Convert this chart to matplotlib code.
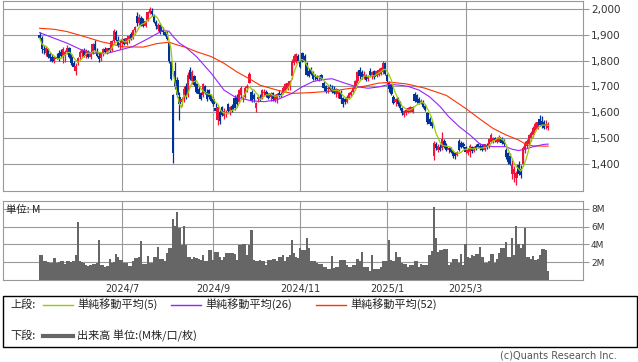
import matplotlib
matplotlib.use("Agg")
import matplotlib.pyplot as plt
from matplotlib.lines import Line2D
from matplotlib.patches import Rectangle
import numpy as np
import pandas as pd

# daily candles, 2024/5 - 2025/4 (index = trading day)
opens = [
    1900, 1890, 1845, 1830, 1845, 1825, 1815, 1805, 1815, 1830,
    1835, 1815, 1820, 1835, 1850, 1815, 1790, 1760, 1790, 1815,
    1830, 1840, 1820, 1835, 1815, 1830, 1865, 1838, 1820, 1810,
    1830, 1845, 1835, 1848, 1840, 1875, 1910, 1880, 1860, 1870,
    1885, 1865, 1885, 1905, 1890, 1920, 1975, 1945, 1965, 1955,
    1935, 1960, 1985, 1995, 1975, 1950, 1925, 1940, 1920, 1910,
    1905, 1870, 1795, 1665, 1760, 1725, 1660, 1640, 1650, 1700,
    1665, 1765, 1720, 1740, 1710, 1690, 1675, 1665, 1700, 1680,
    1685, 1665, 1650, 1615, 1570, 1600, 1620, 1585, 1595, 1630,
    1605, 1625, 1655, 1660, 1640, 1665, 1650, 1660, 1695, 1715,
    1680, 1665, 1615, 1650, 1660, 1655, 1675, 1680, 1665, 1660,
    1675, 1645, 1650, 1675, 1670, 1675, 1685, 1690, 1700, 1740,
    1790, 1795, 1820, 1795, 1830, 1820, 1790, 1760, 1765, 1755,
    1745, 1740, 1735, 1745, 1715, 1700, 1690, 1700, 1695, 1690,
    1670, 1675, 1680, 1655, 1650, 1640, 1655, 1665, 1680, 1690,
    1720, 1765, 1755, 1735, 1745, 1730, 1760, 1740, 1760, 1740,
    1745, 1750, 1755, 1790, 1745, 1715, 1705, 1660, 1640, 1655,
    1640, 1615, 1590, 1595, 1600, 1605, 1600, 1670, 1665, 1650,
    1640, 1640, 1625, 1595, 1575, 1560, 1430, 1478, 1455, 1465,
    1460, 1490, 1470, 1455, 1460, 1450, 1440, 1435, 1490, 1480,
    1475, 1465, 1440, 1445, 1465, 1450, 1470, 1475, 1470, 1465,
    1455, 1470, 1465, 1485, 1490, 1500, 1485, 1490, 1500, 1490,
    1455, 1440, 1430, 1360, 1360, 1345, 1395, 1380, 1400, 1455,
    1470, 1475, 1500, 1510, 1535, 1540, 1575, 1565, 1560, 1545,
    1540,
]
highs = [
    1912, 1895, 1860, 1858, 1850, 1835, 1825, 1820, 1830, 1840,
    1845, 1852, 1840, 1860, 1855, 1825, 1800, 1790, 1815, 1840,
    1845, 1850, 1845, 1842, 1835, 1870, 1880, 1850, 1830, 1835,
    1850, 1855, 1850, 1860, 1880, 1925, 1920, 1895, 1880, 1890,
    1890, 1895, 1900, 1910, 1925, 1935, 1990, 1980, 1975, 1965,
    1960, 1995, 2010, 2005, 1980, 1960, 1945, 1945, 1930, 1920,
    1915, 1875, 1800, 1670, 1795, 1735, 1680, 1660, 1700, 1715,
    1755, 1775, 1762, 1745, 1715, 1700, 1680, 1715, 1705, 1690,
    1690, 1670, 1660, 1635, 1625, 1610, 1625, 1615, 1610, 1635,
    1625, 1630, 1665, 1670, 1690, 1700, 1665, 1700, 1710, 1755,
    1685, 1675, 1640, 1665, 1672, 1690, 1690, 1685, 1675, 1680,
    1680, 1670, 1675, 1685, 1680, 1700, 1715, 1720, 1725, 1805,
    1825, 1830, 1825, 1800, 1835, 1825, 1795, 1770, 1775, 1760,
    1750, 1745, 1745, 1750, 1720, 1705, 1700, 1710, 1705, 1700,
    1695, 1690, 1685, 1660, 1655, 1665, 1680, 1685, 1700, 1725,
    1760, 1775, 1765, 1760, 1750, 1745, 1770, 1760, 1765, 1765,
    1770, 1775, 1797, 1795, 1750, 1720, 1710, 1665, 1655, 1660,
    1645, 1620, 1610, 1615, 1620, 1625, 1625, 1678, 1672, 1660,
    1650, 1648, 1630, 1600, 1580, 1565, 1490, 1485, 1475, 1475,
    1522, 1495, 1480, 1465, 1465, 1455, 1445, 1450, 1495, 1490,
    1485, 1470, 1460, 1475, 1470, 1470, 1478, 1482, 1480, 1475,
    1478, 1480, 1500, 1518, 1505, 1505, 1505, 1512, 1505, 1495,
    1460, 1445, 1440, 1415, 1390, 1370, 1410, 1395, 1470, 1490,
    1495, 1515, 1525, 1545, 1560, 1565, 1590, 1585, 1570, 1570,
    1560,
]
lows = [
    1880, 1830, 1825, 1820, 1810, 1800, 1795, 1790, 1805, 1800,
    1810, 1790, 1795, 1825, 1810, 1785, 1770, 1745, 1785, 1805,
    1815, 1815, 1812, 1810, 1805, 1825, 1835, 1815, 1795, 1800,
    1820, 1830, 1825, 1835, 1838, 1870, 1875, 1855, 1845, 1855,
    1862, 1860, 1870, 1880, 1885, 1905, 1935, 1940, 1935, 1930,
    1930, 1955, 1980, 1975, 1945, 1925, 1915, 1905, 1905, 1895,
    1880, 1790, 1725, 1402, 1690, 1660, 1570, 1625, 1640, 1650,
    1660, 1725, 1710, 1700, 1675, 1660, 1648, 1660, 1670, 1645,
    1650, 1640, 1625, 1600, 1552, 1555, 1585, 1575, 1580, 1600,
    1590, 1600, 1610, 1620, 1635, 1650, 1640, 1655, 1680, 1712,
    1640, 1640, 1600, 1640, 1645, 1650, 1662, 1660, 1650, 1645,
    1645, 1640, 1635, 1660, 1660, 1670, 1680, 1685, 1688, 1730,
    1785, 1790, 1795, 1770, 1795, 1790, 1740, 1735, 1745, 1725,
    1725, 1725, 1720, 1725, 1690, 1675, 1675, 1685, 1675, 1670,
    1660, 1655, 1640, 1620, 1630, 1635, 1650, 1660, 1670, 1685,
    1715, 1730, 1730, 1730, 1720, 1720, 1735, 1730, 1730, 1735,
    1740, 1745, 1750, 1745, 1715, 1680, 1665, 1630, 1625, 1625,
    1610, 1590, 1583, 1590, 1595, 1600, 1598, 1640, 1635, 1630,
    1630, 1615, 1605, 1555, 1550, 1540, 1415, 1455, 1445, 1448,
    1455, 1460, 1450, 1440, 1440, 1422, 1420, 1430, 1450, 1460,
    1462, 1440, 1435, 1425, 1440, 1445, 1455, 1460, 1455, 1450,
    1450, 1458, 1460, 1480, 1480, 1485, 1480, 1485, 1475, 1470,
    1420, 1400, 1395, 1340, 1330, 1317, 1355, 1345, 1390, 1440,
    1460, 1470, 1490, 1505, 1530, 1535, 1545, 1540, 1535, 1535,
    1530,
]
closes = [
    1888, 1845, 1840, 1850, 1815, 1810, 1800, 1812, 1808, 1805,
    1820, 1845, 1835, 1850, 1815, 1790, 1775, 1780, 1810, 1835,
    1840, 1820, 1838, 1815, 1830, 1865, 1840, 1820, 1805, 1830,
    1845, 1835, 1848, 1840, 1875, 1915, 1880, 1860, 1870, 1885,
    1865, 1890, 1895, 1885, 1920, 1930, 1945, 1970, 1940, 1935,
    1955, 1990, 2000, 1980, 1950, 1935, 1940, 1910, 1910, 1900,
    1885, 1800, 1730, 1440, 1700, 1665, 1630, 1650, 1690, 1660,
    1745, 1730, 1755, 1705, 1680, 1670, 1652, 1710, 1675, 1650,
    1660, 1645, 1630, 1605, 1620, 1565, 1590, 1605, 1600, 1605,
    1620, 1610, 1615, 1630, 1685, 1695, 1660, 1695, 1700, 1750,
    1645, 1650, 1635, 1660, 1650, 1685, 1680, 1665, 1655, 1675,
    1650, 1665, 1670, 1665, 1668, 1695, 1710, 1715, 1720, 1800,
    1820, 1825, 1800, 1775, 1800, 1795, 1745, 1740, 1750, 1730,
    1735, 1730, 1740, 1728, 1695, 1680, 1695, 1690, 1680, 1675,
    1690, 1685, 1650, 1630, 1640, 1660, 1675, 1680, 1695, 1720,
    1755, 1740, 1735, 1750, 1725, 1740, 1745, 1755, 1735, 1760,
    1765, 1770, 1790, 1750, 1720, 1690, 1670, 1635, 1650, 1630,
    1615, 1595, 1605, 1610, 1615, 1620, 1620, 1645, 1640, 1635,
    1645, 1620, 1610, 1560, 1555, 1545, 1480, 1460, 1470, 1455,
    1495, 1465, 1455, 1460, 1445, 1428, 1430, 1445, 1455, 1465,
    1468, 1445, 1455, 1470, 1450, 1465, 1460, 1465, 1460, 1455,
    1475, 1462, 1495, 1510, 1500, 1490, 1500, 1505, 1480, 1475,
    1425, 1405, 1400, 1395, 1380, 1365, 1360, 1355, 1462, 1480,
    1490, 1510, 1520, 1540, 1555, 1560, 1550, 1545, 1540, 1555,
    1555,
]
# volume in millions
volumes = [
    2.8, 2.8, 2.2, 2.1, 2.0, 1.9, 1.9, 2.5, 1.9, 2.0,
    2.1, 2.2, 1.8, 2.2, 2.1, 2.0, 2.1, 2.8, 6.5, 2.1,
    2.0, 1.9, 1.7, 1.6, 1.7, 1.8, 1.8, 1.9, 4.5, 1.7,
    1.7, 1.5, 1.6, 2.4, 1.9, 2.0, 2.9, 2.6, 2.3, 2.3,
    1.9, 1.9, 1.6, 1.6, 2.1, 2.5, 2.5, 2.6, 4.4, 1.8,
    1.8, 2.7, 1.9, 1.9, 2.6, 2.6, 3.7, 2.4, 2.4, 2.1,
    3.0, 3.6, 3.6, 6.8, 6.1, 7.6, 5.8, 3.9, 6.1, 3.9,
    2.6, 2.6, 2.4, 2.6, 2.5, 2.4, 2.3, 2.8, 2.1, 2.1,
    3.4, 3.4, 2.3, 3.2, 3.2, 2.6, 2.3, 2.6, 3.1, 3.1,
    3.0, 3.0, 2.9, 2.3, 3.9, 3.9, 4.1, 4.1, 2.8, 3.9,
    5.6, 2.3, 2.1, 2.1, 2.3, 2.1, 2.1, 1.7, 2.3, 2.3,
    2.4, 2.4, 2.1, 2.6, 2.6, 2.8, 2.1, 2.6, 2.8, 4.5,
    3.0, 2.6, 2.5, 3.6, 3.4, 3.4, 4.7, 3.6, 2.1, 2.1,
    2.1, 1.9, 1.8, 1.8, 1.5, 1.5, 1.3, 1.3, 2.7, 1.4,
    1.5, 1.5, 2.3, 2.3, 2.3, 1.7, 1.5, 1.5, 1.7, 1.7,
    2.4, 2.1, 3.2, 1.5, 1.5, 1.5, 1.0, 2.8, 1.3, 1.3,
    1.3, 1.5, 2.1, 2.1, 2.1, 4.5, 2.3, 2.1, 3.2, 2.6,
    2.6, 1.9, 1.8, 1.8, 1.5, 1.7, 1.7, 2.1, 2.1, 1.5,
    1.8, 1.7, 1.7, 1.7, 2.8, 3.3, 8.2, 4.7, 3.2, 3.4,
    3.4, 3.5, 3.5, 1.7, 1.9, 2.4, 2.4, 2.4, 1.9, 2.9,
    1.7, 4.0, 2.6, 2.5, 2.8, 2.7, 2.9, 2.9, 3.7, 2.6,
    1.9, 1.9, 2.1, 2.9, 2.9, 1.9, 2.4, 3.0, 3.6, 3.6,
    4.3, 2.6, 2.6, 4.7, 2.8, 6.1, 4.1, 3.6, 4.0, 5.8,
    2.6, 2.6, 2.4, 2.7, 2.3, 2.4, 2.8, 3.5, 3.5, 3.4,
    1.0,
]

# 26 / 52 day moving averages (include days before the window)
ma26_days = [0, 6, 13, 19, 25, 32, 38, 44, 51, 58, 61, 63, 66, 69, 74, 81, 87, 92,
             100, 106, 112, 119, 124, 129, 134, 138, 144, 149, 155, 160, 165, 170,
             174, 179, 184, 189, 193, 198, 203, 208, 214, 220, 223, 226, 229, 233,
             238, 240]
ma26_vals = [1909, 1890, 1868, 1845, 1829, 1829, 1842, 1855, 1885, 1917, 1915, 1894,
             1868, 1852, 1816, 1751, 1686, 1660, 1644, 1641, 1648, 1673, 1699, 1719,
             1727, 1730, 1713, 1700, 1693, 1698, 1708, 1705, 1700, 1686, 1660, 1622,
             1583, 1544, 1512, 1475, 1466, 1466, 1456, 1451, 1456, 1466, 1475, 1476]
ma52_days = [0, 7, 13, 21, 29, 34, 39, 49, 55, 61, 65, 69, 74, 81, 87, 93, 100, 104,
             112, 119, 128, 138, 147, 154, 160, 166, 173, 182, 192, 201, 208, 214,
             220, 226, 230, 233, 240]
ma52_vals = [1926, 1922, 1913, 1894, 1874, 1865, 1854, 1853, 1866, 1872, 1861, 1852,
             1835, 1816, 1790, 1757, 1725, 1705, 1686, 1673, 1676, 1682, 1693, 1702,
             1713, 1716, 1710, 1693, 1665, 1615, 1572, 1537, 1512, 1492, 1473, 1469,
             1468]

month_pos = [39, 82, 123, 164, 201]
month_labels = ["2024/7", "2024/9", "2024/11", "2025/1", "2025/3"]
price_ticks = [1400, 1500, 1600, 1700, 1800, 1900, 2000]
vol_ticks = [2, 4, 6, 8]

UP = "#f0143c"
DOWN = "#00339a"
C_MA5 = "#99cc00"
C_MA26 = "#9922ff"
C_MA52 = "#ff3300"
GRID = "#999999"
W, H = 638, 362


def fx(px):
    return px / W


def fy(py):
    return 1 - py / H


fig = plt.figure(figsize=(W / 100, H / 100), dpi=100)
fig.patch.set_facecolor("white")

o = np.array(opens, float)
h = np.array(highs, float)
l = np.array(lows, float)
c = np.array(closes, float)
x = np.arange(len(c))
ma5 = pd.Series(c).rolling(5, min_periods=1).mean()

# price panel
ax = fig.add_axes([fx(3), fy(190.7), fx(579.7), (190.7 - 1) / H])
ax.set_xlim(-17.3, 256.3)
ax.set_ylim(1295, 2032)
ax.set_yticks(price_ticks)
ax.set_yticklabels([f"{v:,}" for v in price_ticks])
ax.set_xticks(month_pos)
ax.set_xticklabels([])
ax.yaxis.tick_right()
ax.tick_params(axis="y", length=4, width=0.8, color=GRID, labelsize=7.5,
               labelcolor="#333333", pad=2)
ax.tick_params(axis="x", length=0)
ax.grid(True, color=GRID, lw=0.8)
ax.set_axisbelow(True)
for s in ax.spines.values():
    s.set_color(GRID)
    s.set_linewidth(0.8)

col = np.where(c >= o, UP, DOWN)
ax.vlines(x, l, h, colors=col, lw=0.9, zorder=3)
body = np.maximum(np.abs(c - o), 3)
ax.bar(x, body, bottom=np.minimum(o, c), width=1.15, color=col, lw=0, zorder=3)
ax.plot(ma52_days, ma52_vals, color=C_MA52, lw=0.8, zorder=4)
ax.plot(ma26_days, ma26_vals, color=C_MA26, lw=0.8, zorder=4)
ax.plot(x, ma5, color=C_MA5, lw=0.9, zorder=5)

# volume panel
av = fig.add_axes([fx(3), fy(280.3), fx(579.7), (280.3 - 200.5) / H])
av.set_xlim(-17.3, 256.3)
av.set_ylim(0, 8.9)
av.set_yticks(vol_ticks)
av.set_yticklabels([f"{v}M" for v in vol_ticks])
av.yaxis.tick_right()
av.tick_params(axis="y", length=4, width=0.8, color=GRID, labelsize=6.5,
               labelcolor="#333333", pad=2)
av.set_xticks(month_pos)
av.set_xticklabels(month_labels)
av.tick_params(axis="x", length=0, labelsize=7, labelcolor="#333333", pad=3)
av.grid(True, color=GRID, lw=0.8)
av.set_axisbelow(True)
for s in av.spines.values():
    s.set_color(GRID)
    s.set_linewidth(0.8)
av.bar(x, volumes, width=1.0, color="#666666", lw=0, zorder=3)

jp = ["Noto Sans CJK JP", "DejaVu Sans"]
fig.text(fx(6), fy(210), "単位: M", fontsize=7.5, family=jp,
         va="center", ha="left", color="#222222")

# legend box
fig.patches.append(Rectangle((fx(3), fy(347)), fx(633.5), (347 - 296) / H,
                             transform=fig.transFigure, fill=False, ec="black", lw=1))
row1, row2 = 304.5, 335.5
fig.text(fx(10), fy(row1), "上段:", fontsize=8, family=jp, va="center", color="#222222")
fig.text(fx(10), fy(row2), "下段:", fontsize=8, family=jp, va="center", color="#222222")
items = [(43, C_MA5, "単純移動平均(5)"), (171, C_MA26, "単純移動平均(26)"),
         (316, C_MA52, "単純移動平均(52)")]
for x0, cc, lab in items:
    fig.lines.append(Line2D([fx(x0), fx(x0 + 30)], [fy(row1), fy(row1)],
                            transform=fig.transFigure, color=cc, lw=1))
    fig.text(fx(x0 + 34), fy(row1), lab, fontsize=8, family=jp, va="center", color="#222222")
fig.lines.append(Line2D([fx(43), fx(73)], [fy(row2), fy(row2)],
                        transform=fig.transFigure, color="#666666", lw=3))
fig.text(fx(77), fy(row2), "出来高 単位:(M株/口/枚)", fontsize=8, family=jp,
         va="center", color="#222222")

fig.text(fx(617), fy(356), "(c)Quants Research Inc.", fontsize=7, ha="right",
         va="center", color="#555555")

fig.savefig("out.png", dpi=100)
